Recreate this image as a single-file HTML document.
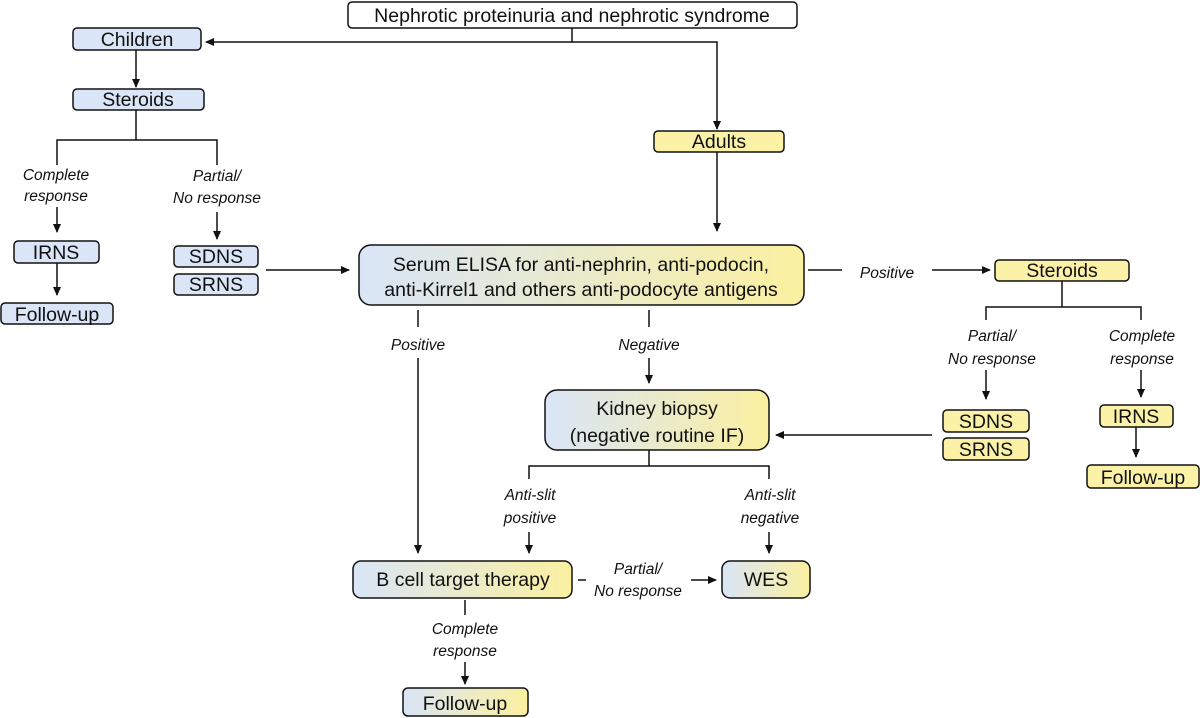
<!DOCTYPE html>
<html><head><meta charset="utf-8"><style>
html,body{margin:0;padding:0;background:#fff}
svg{display:block}
text{font-family:"Liberation Sans",sans-serif;fill:#111}
.b{font-size:19.5px;text-anchor:middle}
.l{font-size:15.5px;font-style:italic;text-anchor:middle}
.ln{stroke:#111;stroke-width:1.5;fill:none}
.bx{stroke:#111;stroke-width:1.5}
</style></head><body>
<svg width="1200" height="718" viewBox="0 0 1200 718" xmlns="http://www.w3.org/2000/svg">
<defs>
<marker id="a" markerWidth="10" markerHeight="10" refX="8" refY="5" orient="auto" markerUnits="userSpaceOnUse"><path d="M0,1 L9,5 L0,9 z" fill="#111"/></marker>
<linearGradient id="g" x1="0" y1="0" x2="1" y2="0"><stop offset="0" stop-color="#d9e5f7"/><stop offset="1" stop-color="#fbf0a0"/></linearGradient>
</defs>
<rect class="bx" x="348" y="2" width="449" height="26" rx="4" fill="#fff"/>
<text class="b" x="572" y="22">Nephrotic proteinuria and nephrotic syndrome</text>
<rect class="bx" x="73" y="28" width="128" height="22" rx="4" fill="#dae6f7"/><text class="b" x="137" y="46">Children</text>
<rect class="bx" x="73" y="89" width="131" height="21" rx="4" fill="#dae6f7"/><text class="b" x="138" y="106">Steroids</text>
<rect class="bx" x="14" y="241" width="85" height="22" rx="4" fill="#dae6f7"/><text class="b" x="56" y="259">IRNS</text>
<rect class="bx" x="1" y="303" width="112" height="21" rx="4" fill="#dae6f7"/><text class="b" x="57" y="321">Follow-up</text>
<rect class="bx" x="174" y="246" width="84" height="21" rx="4" fill="#dae6f7"/><text class="b" x="216" y="263">SDNS</text>
<rect class="bx" x="174" y="274" width="84" height="21" rx="4" fill="#dae6f7"/><text class="b" x="216" y="291">SRNS</text>
<rect class="bx" x="359" y="245" width="445" height="60" rx="12" fill="url(#g)"/>
<text class="b" x="581" y="271">Serum ELISA for anti-nephrin, anti-podocin,</text>
<text class="b" x="581" y="296">anti-Kirrel1 and others anti-podocyte antigens</text>
<rect class="bx" x="654" y="131" width="130" height="21" rx="4" fill="#fbf2a8"/><text class="b" x="719" y="148">Adults</text>
<rect class="bx" x="995" y="260" width="134" height="21" rx="4" fill="#fbf2a8"/><text class="b" x="1062" y="277">Steroids</text>
<rect class="bx" x="943" y="410" width="86" height="22" rx="4" fill="#fbf2a8"/><text class="b" x="986" y="428">SDNS</text>
<rect class="bx" x="943" y="438" width="86" height="22" rx="4" fill="#fbf2a8"/><text class="b" x="986" y="456">SRNS</text>
<rect class="bx" x="1100" y="405" width="73" height="22" rx="4" fill="#fbf2a8"/><text class="b" x="1136" y="423">IRNS</text>
<rect class="bx" x="1087" y="465" width="112" height="23" rx="4" fill="#fbf2a8"/><text class="b" x="1143" y="484">Follow-up</text>
<rect class="bx" x="545" y="390" width="224" height="60" rx="12" fill="url(#g)"/>
<text class="b" x="657" y="415">Kidney biopsy</text>
<text class="b" x="657" y="442">(negative routine IF)</text>
<rect class="bx" x="353" y="561" width="219" height="37" rx="8" fill="url(#g)"/><text class="b" x="463" y="586">B cell target therapy</text>
<rect class="bx" x="722" y="561" width="88" height="37" rx="8" fill="url(#g)"/><text class="b" x="766" y="586">WES</text>
<rect class="bx" x="403" y="688" width="125" height="28" rx="5" fill="url(#g)"/><text class="b" x="465" y="710">Follow-up</text>
<path class="ln" d="M572 28 V42 H717 V129" marker-end="url(#a)"/>
<path class="ln" d="M572 42 H206" marker-end="url(#a)"/>
<path class="ln" d="M136 50 V87" marker-end="url(#a)"/>
<path class="ln" d="M136 110 V140 M57 165 V140 H217 V165"/>
<path class="ln" d="M57 207 V232" marker-end="url(#a)"/>
<path class="ln" d="M217 212 V239" marker-end="url(#a)"/>
<path class="ln" d="M57 263 V295" marker-end="url(#a)"/>
<path class="ln" d="M266 270 H349" marker-end="url(#a)"/>
<path class="ln" d="M717 152 V231" marker-end="url(#a)"/>
<path class="ln" d="M808 270 H842"/>
<path class="ln" d="M932 270 H990" marker-end="url(#a)"/>
<path class="ln" d="M1062 281 V307 M986 320 V307 H1141 V320"/>
<path class="ln" d="M986 370 V399" marker-end="url(#a)"/>
<path class="ln" d="M1141 370 V397" marker-end="url(#a)"/>
<path class="ln" d="M1136 427 V457" marker-end="url(#a)"/>
<path class="ln" d="M932 435 H776" marker-end="url(#a)"/>
<path class="ln" d="M418 310 V327"/>
<path class="ln" d="M418 358 V553" marker-end="url(#a)"/>
<path class="ln" d="M649 310 V327"/>
<path class="ln" d="M649 358 V383" marker-end="url(#a)"/>
<path class="ln" d="M649 450 V466 M529 479 V466 H769 V479"/>
<path class="ln" d="M529 532 V553" marker-end="url(#a)"/>
<path class="ln" d="M769 532 V553" marker-end="url(#a)"/>
<path class="ln" d="M578 580 H586"/>
<path class="ln" d="M691 580 H716" marker-end="url(#a)"/>
<path class="ln" d="M465 600 V615"/>
<path class="ln" d="M465 662 V684" marker-end="url(#a)"/>
<text class="l" x="56" y="180">Complete</text><text class="l" x="56" y="201">response</text>
<text class="l" x="217" y="181">Partial/</text><text class="l" x="217" y="203">No response</text>
<text class="l" x="887" y="278">Positive</text>
<text class="l" x="992" y="341">Partial/</text><text class="l" x="992" y="364">No response</text>
<text class="l" x="1142" y="341">Complete</text><text class="l" x="1142" y="364">response</text>
<text class="l" x="418" y="350">Positive</text>
<text class="l" x="649" y="350">Negative</text>
<text class="l" x="530" y="500">Anti-slit</text><text class="l" x="530" y="523">positive</text>
<text class="l" x="770" y="500">Anti-slit</text><text class="l" x="770" y="523">negative</text>
<text class="l" x="638" y="574">Partial/</text><text class="l" x="638" y="596">No response</text>
<text class="l" x="465" y="634">Complete</text><text class="l" x="465" y="656">response</text>
</svg>
</body></html>
